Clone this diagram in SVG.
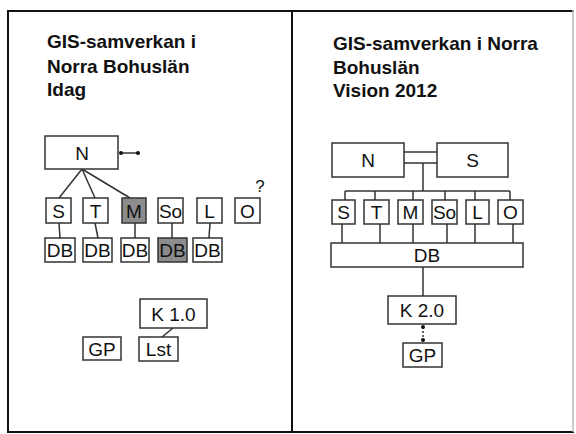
<svg xmlns="http://www.w3.org/2000/svg" width="576" height="434" viewBox="0 0 576 434">
<style>
.frame{stroke:#111;stroke-width:2;fill:none}
.box{fill:#fff;stroke:#333;stroke-width:1.5}
.grey{fill:#8c8c8c;stroke:#333;stroke-width:1.5}
.lbl{font-family:"Liberation Sans",Arial,sans-serif;font-size:19px;fill:#111;text-anchor:middle;dominant-baseline:central}
.title{font-family:"Liberation Sans",Arial,sans-serif;font-size:19px;font-weight:bold;fill:#111}
.ln{stroke:#333;stroke-width:1.5;fill:none}
</style>
<defs>
<marker id="dot" viewBox="0 0 6 6" refX="3" refY="3" markerWidth="4" markerHeight="4" markerUnits="userSpaceOnUse"><circle cx="3" cy="3" r="3" fill="#111"/></marker>
</defs>
<rect width="576" height="434" fill="#fff"/>
<g id="frame">
<line class="frame" x1="7" y1="11" x2="574" y2="11"/>
<line class="frame" x1="8" y1="10" x2="8" y2="432"/>
<line class="frame" x1="292" y1="10" x2="292" y2="432"/>
<line class="frame" x1="7" y1="432" x2="574" y2="432" stroke="#555"/>
<line x1="573" y1="10" x2="573" y2="432" stroke="#bbb" stroke-width="1.5"/>
</g>
<text class="title" x="47" y="48">GIS-samverkan i</text>
<text class="title" x="47" y="73">Norra Bohuslän</text>
<text class="title" x="47" y="96">Idag</text>
<text class="title" x="333" y="50">GIS-samverkan i Norra</text>
<text class="title" x="333" y="74">Bohuslän</text>
<text class="title" x="333" y="97">Vision 2012</text>
<g id="connectors">
<line class="ln" x1="82" y1="169" x2="59" y2="198"/>
<line class="ln" x1="82" y1="169" x2="95" y2="198"/>
<line class="ln" x1="82" y1="169" x2="130" y2="198"/>
<line class="ln" x1="121" y1="153" x2="138" y2="153" marker-start="url(#dot)" marker-end="url(#dot)"/>
<line class="ln" x1="59" y1="223" x2="60" y2="238"/>
<line class="ln" x1="95" y1="223" x2="98" y2="238"/>
<line class="ln" x1="135" y1="223" x2="135" y2="238"/>
<line class="ln" x1="172" y1="223" x2="172" y2="238"/>
<line class="ln" x1="210" y1="223" x2="209" y2="238"/>
<line class="ln" x1="173" y1="328" x2="162" y2="337"/>
<line class="ln" x1="404" y1="152" x2="437" y2="152"/>
<line class="ln" x1="404" y1="163" x2="437" y2="163"/>
<line class="ln" x1="423" y1="163" x2="423" y2="191"/>
<line class="ln" x1="345" y1="191" x2="510" y2="191"/>
<line class="ln" x1="345" y1="191" x2="345" y2="200"/>
<line class="ln" x1="375" y1="191" x2="375" y2="200"/>
<line class="ln" x1="413" y1="191" x2="413" y2="200"/>
<line class="ln" x1="445" y1="191" x2="445" y2="200"/>
<line class="ln" x1="475" y1="191" x2="475" y2="200"/>
<line class="ln" x1="510" y1="191" x2="510" y2="200"/>
<line class="ln" x1="342" y1="224" x2="342" y2="243"/>
<line class="ln" x1="380" y1="224" x2="380" y2="243"/>
<line class="ln" x1="413" y1="224" x2="413" y2="243"/>
<line class="ln" x1="447" y1="224" x2="447" y2="243"/>
<line class="ln" x1="475" y1="224" x2="475" y2="243"/>
<line class="ln" x1="513" y1="224" x2="513" y2="243"/>
<line class="ln" x1="423" y1="267" x2="423" y2="296"/>
<line class="ln" x1="423" y1="327" x2="423" y2="340" stroke-dasharray="2 2" marker-start="url(#dot)" marker-end="url(#dot)"/>
</g>
<g id="L-N"><rect class="box" x="45" y="136" width="73" height="33"/><text class="lbl" x="82" y="153">N</text></g>
<g id="L-S"><rect class="box" x="46" y="198" width="25" height="25"/><text class="lbl" x="58.5" y="211">S</text></g>
<g id="L-T"><rect class="box" x="83" y="198" width="25" height="25"/><text class="lbl" x="95.5" y="211">T</text></g>
<g id="L-M"><rect class="grey" x="122" y="198" width="24" height="25"/><text class="lbl" x="134" y="211">M</text></g>
<g id="L-So"><rect class="box" x="158" y="198" width="25" height="25"/><text class="lbl" x="170.5" y="211">So</text></g>
<g id="L-L"><rect class="box" x="197" y="198" width="25" height="25"/><text class="lbl" x="209.5" y="211">L</text></g>
<g id="L-O"><rect class="box" x="235" y="198" width="25" height="25"/><text class="lbl" x="247.5" y="211">O</text><text class="lbl" x="260" y="186" style="font-size:17px">?</text></g>
<g id="L-DB1"><rect class="box" x="45" y="238" width="30" height="24"/><text class="lbl" x="60" y="250.5">DB</text></g>
<g id="L-DB2"><rect class="box" x="83" y="238" width="29" height="24"/><text class="lbl" x="97.5" y="250.5">DB</text></g>
<g id="L-DB3"><rect class="box" x="121" y="238" width="28" height="24"/><text class="lbl" x="135" y="250.5">DB</text></g>
<g id="L-DB4"><rect class="grey" x="158" y="238" width="29" height="24"/><text class="lbl" x="172.5" y="250.5">DB</text></g>
<g id="L-DB5"><rect class="box" x="193" y="238" width="29" height="24"/><text class="lbl" x="207.5" y="250.5">DB</text></g>
<g id="L-K"><rect class="box" x="140" y="299" width="67" height="29"/><text class="lbl" x="173.5" y="314">K 1.0</text></g>
<g id="L-Lst"><rect class="box" x="139" y="337" width="39" height="24"/><text class="lbl" x="158.5" y="349.5">Lst</text></g>
<g id="L-GP"><rect class="box" x="83" y="337" width="38" height="23"/><text class="lbl" x="102" y="349">GP</text></g>
<g id="R-N"><rect class="box" x="332" y="143" width="72" height="34"/><text class="lbl" x="368" y="160">N</text></g>
<g id="R-S"><rect class="box" x="437" y="143" width="71" height="34"/><text class="lbl" x="472.5" y="160">S</text></g>
<g id="R-S2"><rect class="box" x="332" y="200" width="23" height="24"/><text class="lbl" x="343.5" y="212.5">S</text></g>
<g id="R-T"><rect class="box" x="364" y="200" width="25" height="24"/><text class="lbl" x="376.5" y="212.5">T</text></g>
<g id="R-M"><rect class="box" x="398" y="200" width="25" height="24"/><text class="lbl" x="410.5" y="212.5">M</text></g>
<g id="R-So"><rect class="box" x="432" y="200" width="25" height="24"/><text class="lbl" x="444.5" y="212.5">So</text></g>
<g id="R-L"><rect class="box" x="466" y="200" width="23" height="24"/><text class="lbl" x="477.5" y="212.5">L</text></g>
<g id="R-O"><rect class="box" x="498" y="200" width="25" height="24"/><text class="lbl" x="510.5" y="212.5">O</text></g>
<g id="R-DB"><rect class="box" x="331" y="243" width="192" height="24"/><text class="lbl" x="427" y="255.5">DB</text></g>
<g id="R-K"><rect class="box" x="388" y="296" width="68" height="28"/><text class="lbl" x="422" y="310.5">K 2.0</text></g>
<g id="R-GP"><rect class="box" x="403" y="343" width="39" height="24"/><text class="lbl" x="422.5" y="355.5">GP</text></g>
</svg>
